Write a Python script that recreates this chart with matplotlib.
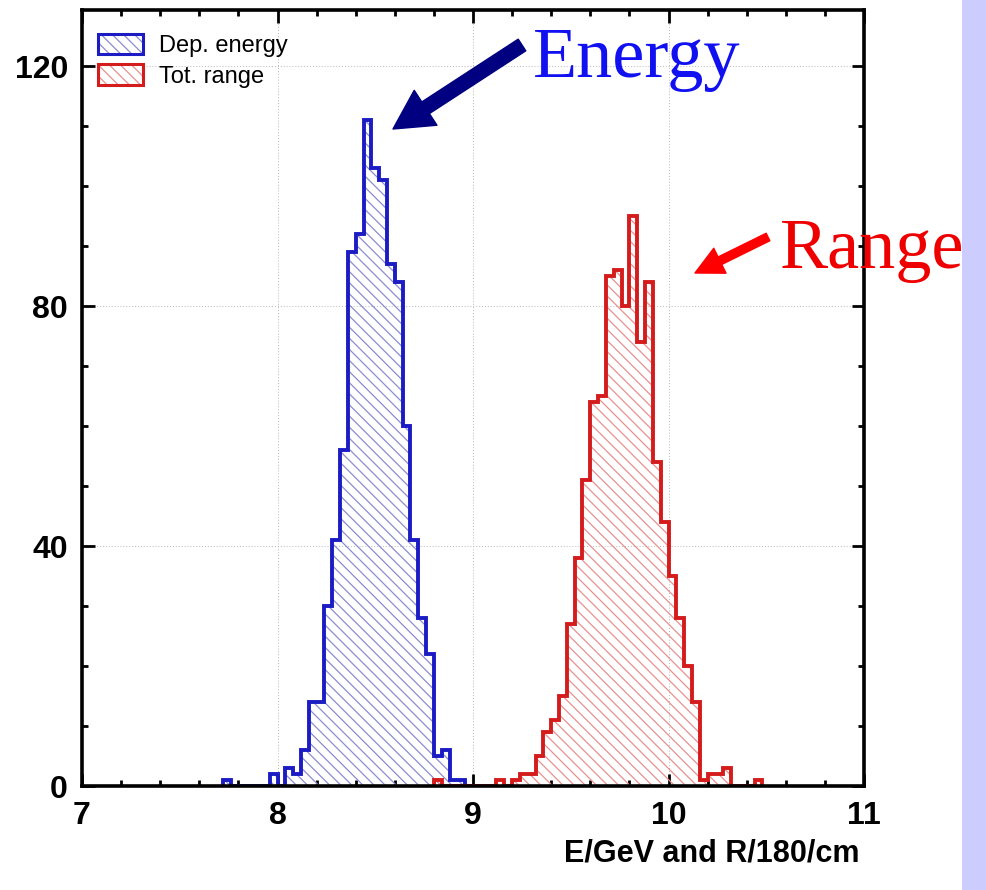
import numpy as np
import matplotlib
matplotlib.use("Agg")
import matplotlib.pyplot as plt
from matplotlib.patches import Patch, Rectangle, FancyArrowPatch
from matplotlib.legend_handler import HandlerTuple
from matplotlib.ticker import MultipleLocator

# ---- data ----
bin_width = 0.04
energy_first_edge = 7.72
energy_counts = [1, 0, 0, 0, 0, 0, 2, 0, 3, 2, 6, 14, 14, 30, 41, 56, 89, 92,
                 111, 103, 101, 87, 84, 60, 41, 28, 22, 5, 6, 1, 1]
range_first_edge = 8.80
range_counts = [1, 0, 0, 0, 0, 0, 0, 0, 1, 0, 1, 2, 2, 5, 9, 11, 15, 27, 38,
                51, 64, 65, 85, 86, 80, 95, 74, 84, 54, 44, 35, 28, 20, 14,
                1, 2, 2, 3, 0, 0, 0, 1]
legend_labels = ["Dep. energy", "Tot. range"]
x_ticks = [7, 8, 9, 10, 11]
y_ticks = [0, 40, 80, 120]
x_label = "E/GeV and R/180/cm"

def edges_for(first, counts):
    return first + bin_width * np.arange(len(counts) + 1)

plt.rcParams['font.family'] = ['Liberation Sans', 'DejaVu Sans']
plt.rcParams['hatch.linewidth'] = 0.9

W, H = 986, 890
fig = plt.figure(figsize=(W / 100, H / 100), dpi=100)
fig.patch.set_facecolor('white')
# right-hand lavender band
fig.add_artist(Rectangle((962 / W, 0), (W - 962) / W, 1, transform=fig.transFigure,
                         facecolor='#ccccff', edgecolor='none', zorder=0))

ax = fig.add_axes([82 / W, 1 - 786 / H, 782 / W, 776 / H])
ax.set_xlim(7, 11)
ax.set_ylim(0, 776 / 6)

blue_line = '#1c1cc4'
blue_hatch = '#8c8cd0'
red_line = '#d41c1c'
red_hatch = '#e89090'

e_edges = edges_for(energy_first_edge, energy_counts)
r_edges = edges_for(range_first_edge, range_counts)

ax.stairs(energy_counts, e_edges, fill=True, facecolor='none', edgecolor=blue_hatch,
          hatch='\\\\\\', linewidth=0, zorder=2)
ax.stairs(energy_counts, e_edges, baseline=0, fill=False, color=blue_line,
          linewidth=2.8, zorder=3)
ax.stairs(range_counts, r_edges, fill=True, facecolor='none', edgecolor=red_hatch,
          hatch='\\\\\\', linewidth=0, zorder=2)
ax.stairs(range_counts, r_edges, baseline=0, fill=False, color=red_line,
          linewidth=2.8, zorder=3)

# axes styling
for s in ax.spines.values():
    s.set_linewidth(2.6)
    s.set_zorder(5)
ax.set_xticks(x_ticks)
ax.set_yticks(y_ticks)
ax.xaxis.set_minor_locator(MultipleLocator(0.2))
ax.yaxis.set_minor_locator(MultipleLocator(10))
ax.tick_params(which='both', direction='in', top=True, right=True, width=2.0)
ax.tick_params(which='major', length=9)
ax.tick_params(which='minor', length=4)
ax.tick_params(axis='x', which='major', pad=11, labelsize=23)
ax.tick_params(axis='y', which='major', pad=10, labelsize=23)
for lab in ax.get_xticklabels() + ax.get_yticklabels():
    lab.set_fontweight('bold')
ax.grid(True, which='major', linestyle=(0, (1, 2)), color='#b8b8b8', linewidth=0.7, zorder=1)
ax.set_axisbelow(True)

fig.text(860 / W, 1 - 861 / H, x_label, ha='right', va='baseline',
         fontsize=22, fontweight='bold')

# legend
h_e = (Patch(facecolor='white', edgecolor=blue_hatch, hatch='\\\\\\', linewidth=0),
       Patch(fill=False, edgecolor=blue_line, linewidth=2.2))
h_r = (Patch(facecolor='white', edgecolor=red_hatch, hatch='\\\\\\', linewidth=0),
       Patch(fill=False, edgecolor=red_line, linewidth=2.2))
ax.legend(handles=[h_e, h_r], labels=legend_labels,
          handler_map={tuple: HandlerTuple(ndivide=1)},
          loc='upper left', bbox_to_anchor=((98 - 82) / 782, (786 - 34) / 776),
          frameon=False, borderpad=0, borderaxespad=0, fontsize=17,
          handlelength=1.9, handleheight=0.95, handletextpad=0.7, labelspacing=0.3)

# annotations
fig.text(533 / W, 1 - 77 / H, "Energy", color='#1010f0', fontsize=52,
         family=['Liberation Serif', 'DejaVu Serif'], ha='left', va='baseline')
fig.text(780 / W, 1 - 268 / H, "Range", color='#ee0000', fontsize=52,
         family=['Liberation Serif', 'DejaVu Serif'], ha='left', va='baseline')

def fig_arrow(x0, y0, x1, y1, color, hl, hw, tw):
    arr = FancyArrowPatch((x0 / W, 1 - y0 / H), (x1 / W, 1 - y1 / H),
                          transform=fig.transFigure,
                          arrowstyle=f'simple,head_length={hl},head_width={hw},tail_width={tw}',
                          mutation_scale=1, color=color, shrinkA=0, shrinkB=0, zorder=10)
    fig.add_artist(arr)

fig_arrow(522, 45, 393, 129, '#000080', 28, 30, 10)
fig_arrow(768, 237, 695, 273, '#ff0000', 20, 20, 6)

fig.savefig('out.png', dpi=100, facecolor='white')
